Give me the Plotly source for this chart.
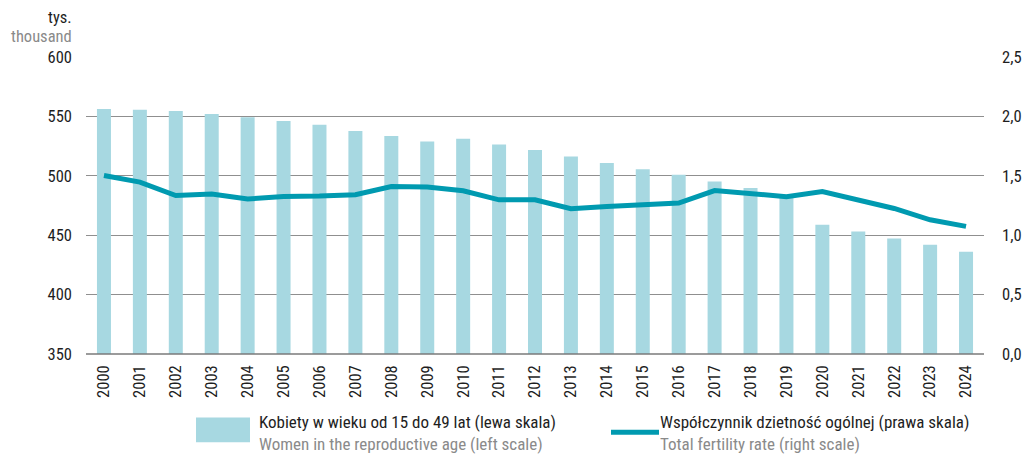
import plotly.graph_objects as go

years = [str(y) for y in range(2000, 2025)]
women_thousands = [556.3, 555.5, 554.6, 552.0, 549.3, 546.2, 542.9, 537.8, 533.6, 528.8,
                   531.1, 526.3, 521.8, 516.2, 510.7, 505.6, 500.8, 495.2, 489.8, 484.0,
                   458.8, 453.2, 447.3, 442.0, 436.1]
fertility_rate = [1.503, 1.447, 1.334, 1.346, 1.304, 1.326, 1.329, 1.340, 1.410, 1.405,
                  1.374, 1.298, 1.298, 1.223, 1.242, 1.256, 1.270, 1.376, 1.351, 1.324,
                  1.368, 1.298, 1.225, 1.130, 1.074]
left_ticks = [350, 400, 450, 500, 550, 600]
right_ticks = [0.0, 0.5, 1.0, 1.5, 2.0, 2.5]

name_bar_pl = "Kobiety w wieku od 15 do 49 lat (lewa skala)"
name_bar_en = "Women in the reproductive age (left scale)"
name_line_pl = "Współczynnik dzietność ogólnej (prawa skala)"
name_line_en = "Total fertility rate (right scale)"

FONT = "Roboto Condensed, Liberation Sans Narrow, DejaVu Sans Condensed, sans-serif"
BAR_COLOR = "#a7d8e1"
LINE_COLOR = "#009ab0"
GRID = "#8f8f8f"
GREY_TXT = "#8a8a8a"
TXT = "#1e1e1e"

# the page places the figure 8px from the window's top-left corner
OFF = 8
W, H = 1033 - OFF, 454 - OFF
L, T = 86 - OFF, 57 - OFF
R = W - (984 - OFF)
B = H - (354.5 - OFF)
PW, PH = W - L - R, H - T - B


def px(x):
    return (x - OFF - L) / PW


def py(y):
    return (H - B - (y - OFF)) / PH


fig = go.Figure()
fig.add_trace(go.Bar(x=years, y=women_thousands, marker=dict(color=BAR_COLOR, line=dict(width=0)),
                     width=0.39, name=name_bar_pl, yaxis="y"))
fig.add_trace(go.Scatter(x=years, y=fertility_rate, mode="lines",
                         line=dict(color=LINE_COLOR, width=5), name=name_line_pl, yaxis="y2"))

fig.update_layout(
    width=W, height=H,
    margin=dict(l=L, r=R, t=T, b=B, autoexpand=False),
    paper_bgcolor="white", plot_bgcolor="white",
    separators=", ",
    showlegend=False,
    font=dict(family=FONT, size=16, color=TXT),
    xaxis=dict(type="category", range=[-0.5, 24.5], tickangle=-90, showgrid=False,
               ticks="", showline=False, tickfont=dict(size=16.5), ticklabelstandoff=7),
    yaxis=dict(range=[350, 600], tickvals=left_ticks, showgrid=True, gridcolor=GRID, gridwidth=1,
               zeroline=False, showline=False, ticks="", tickfont=dict(size=16.5),
               ticklabelstandoff=13),
    yaxis2=dict(range=[0, 2.5], tickvals=right_ticks, tickformat=".1f", overlaying="y", side="right",
                showgrid=False, zeroline=False, showline=False, ticks="", tickfont=dict(size=16.5),
                ticklabelstandoff=17),
)

# bottom axis line
fig.add_shape(type="line", xref="paper", yref="paper", x0=0, x1=1, y0=0, y1=0,
              line=dict(color="#7a7a7a", width=1.5), layer="above")

# axis unit label
fig.add_annotation(x=px(73), y=py(17), xref="paper", yref="paper", text="tys.",
                   showarrow=False, xanchor="right", yanchor="middle", borderpad=0,
                   font=dict(size=16.5, color=TXT))
fig.add_annotation(x=px(73), y=py(36), xref="paper", yref="paper", text="thousand",
                   showarrow=False, xanchor="right", yanchor="middle", borderpad=0,
                   font=dict(size=16.5, color=GREY_TXT))

# custom legend
fig.add_shape(type="rect", xref="paper", yref="paper", x0=px(196), x1=px(250), y0=py(443), y1=py(418),
              fillcolor=BAR_COLOR, line=dict(width=0))
fig.add_annotation(x=px(257), y=py(434), xref="paper", yref="paper",
                   text=f"{name_bar_pl}<br><span style='color:{GREY_TXT}'>{name_bar_en}</span>",
                   showarrow=False, xanchor="left", yanchor="middle", align="left",
                   font=dict(size=17, color=TXT))
fig.add_shape(type="line", xref="paper", yref="paper", x0=px(611), x1=px(659), y0=py(433), y1=py(433),
              line=dict(color=LINE_COLOR, width=5))
fig.add_annotation(x=px(658), y=py(434), xref="paper", yref="paper",
                   text=f"{name_line_pl}<br><span style='color:{GREY_TXT}'>{name_line_en}</span>",
                   showarrow=False, xanchor="left", yanchor="middle", align="left",
                   font=dict(size=17, color=TXT))

fig.write_html("out.html")
